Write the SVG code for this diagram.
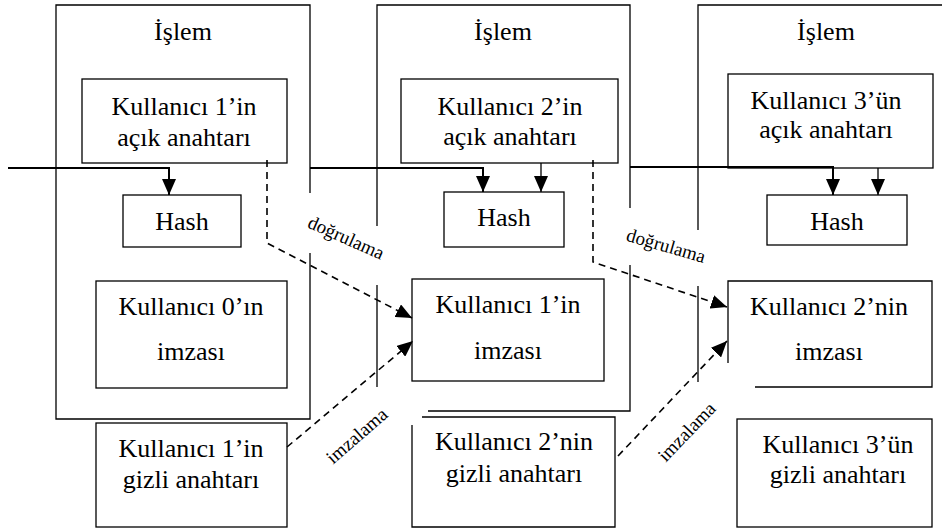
<svg xmlns="http://www.w3.org/2000/svg" width="942" height="529" viewBox="0 0 942 529">
<style>
.b{fill:none;stroke:#000;stroke-width:1.3}
.t{font-size:26px;fill:#000;text-anchor:middle}
.l{font-size:19px;fill:#000;text-anchor:middle}
.s{fill:none;stroke:#000;stroke-width:2}
.a{fill:none;stroke:#000;stroke-width:1.3}
.d{fill:none;stroke:#000;stroke-width:1.6;stroke-dasharray:7 5}
</style>
<defs>
<marker id="ah" markerUnits="userSpaceOnUse" markerWidth="17" markerHeight="14" refX="16" refY="7" orient="auto">
<path d="M0,0 L16,7 L0,14 Z" fill="#000"/>
</marker>
</defs>
<rect width="942" height="529" fill="#fff"/>
<g font-family="'Liberation Serif', 'Times New Roman', 'DejaVu Serif', serif">
<g id="islem1">
<path class="b" d="M310,193 V5 H56 V419 H310 V253"/>
<text class="t" x="183" y="40">İşlem</text>
</g>
<g id="islem2">
<path class="b" d="M377,226 V5 H630 V208 M630,265 V411 H428 M377,285 V387"/>
<text class="t" x="503" y="40">İşlem</text>
</g>
<g id="islem3">
<path class="b" d="M942,5 H698 V230 M698,286 V382"/>
<text class="t" x="826" y="40">İşlem</text>
</g>
<g id="acik1">
<rect class="b" x="82" y="79" width="205" height="84"/>
<text class="t" x="184" y="115">Kullanıcı 1’in</text>
<text class="t" x="184" y="146">açık anahtarı</text>
</g>
<g id="acik2">
<rect class="b" x="401" y="79" width="217" height="84"/>
<text class="t" x="510" y="115">Kullanıcı 2’in</text>
<text class="t" x="510" y="145">açık anahtarı</text>
</g>
<g id="acik3">
<rect class="b" x="728" y="74" width="205" height="94"/>
<text class="t" x="826" y="109">Kullanıcı 3’ün</text>
<text class="t" x="826" y="138">açık anahtarı</text>
</g>
<g id="hash1">
<rect class="b" x="123" y="195" width="118" height="52"/>
<text class="t" x="182" y="230">Hash</text>
</g>
<g id="hash2">
<rect class="b" x="444" y="192" width="120" height="55"/>
<text class="t" x="504" y="226">Hash</text>
</g>
<g id="hash3">
<rect class="b" x="767" y="195" width="140" height="50"/>
<text class="t" x="837" y="230">Hash</text>
</g>
<g id="imza0">
<rect class="b" x="96" y="281" width="191" height="107"/>
<text class="t" x="191" y="315">Kullanıcı 0’ın</text>
<text class="t" x="191" y="360">imzası</text>
</g>
<g id="imza1">
<rect class="b" x="412" y="279" width="192" height="102"/>
<text class="t" x="508" y="313">Kullanıcı 1’in</text>
<text class="t" x="508" y="359">imzası</text>
</g>
<g id="imza2">
<path class="b" d="M728,363 V281 H932 V387 H755"/>
<text class="t" x="829" y="315">Kullanıcı 2’nin</text>
<text class="t" x="829" y="360">imzası</text>
</g>
<g id="gizli1">
<rect class="b" x="96" y="423" width="191" height="104"/>
<text class="t" x="191" y="457">Kullanıcı 1’in</text>
<text class="t" x="191" y="488">gizli anahtarı</text>
</g>
<g id="gizli2">
<path class="b" d="M422,417 H615 V527 H412 V425"/>
<text class="t" x="514" y="450">Kullanıcı 2’nin</text>
<text class="t" x="514" y="482">gizli anahtarı</text>
</g>
<g id="gizli3">
<rect class="b" x="737" y="419" width="195" height="108"/>
<text class="t" x="838" y="453">Kullanıcı 3’ün</text>
<text class="t" x="838" y="483">gizli anahtarı</text>
</g>
<g id="connectors">
<path class="s" d="M8,168 H169 V195" marker-end="url(#ah)"/>
<path class="s" d="M310,168 H483 V192" marker-end="url(#ah)"/>
<path class="s" d="M630,167 H833 V195" marker-end="url(#ah)"/>
<path class="a" d="M541,163 V192" marker-end="url(#ah)"/>
<path class="a" d="M878,168 V195" marker-end="url(#ah)"/>
<path class="d" d="M267,160 V243 L412,318" marker-end="url(#ah)"/>
<path class="d" d="M593,160 V262 L727,307" marker-end="url(#ah)"/>
<path class="d" d="M287,447 L413,341" marker-end="url(#ah)"/>
<path class="d" d="M618,456 L727,341" marker-end="url(#ah)"/>
<text class="l" transform="translate(346,238) rotate(24)" y="6">doğrulama</text>
<text class="l" transform="translate(666,246) rotate(16)" y="6">doğrulama</text>
<text class="l" transform="translate(357,436) rotate(-41)" y="6">imzalama</text>
<text class="l" transform="translate(687,432) rotate(-46)" y="6">imzalama</text>
</g>
</g>
</svg>
